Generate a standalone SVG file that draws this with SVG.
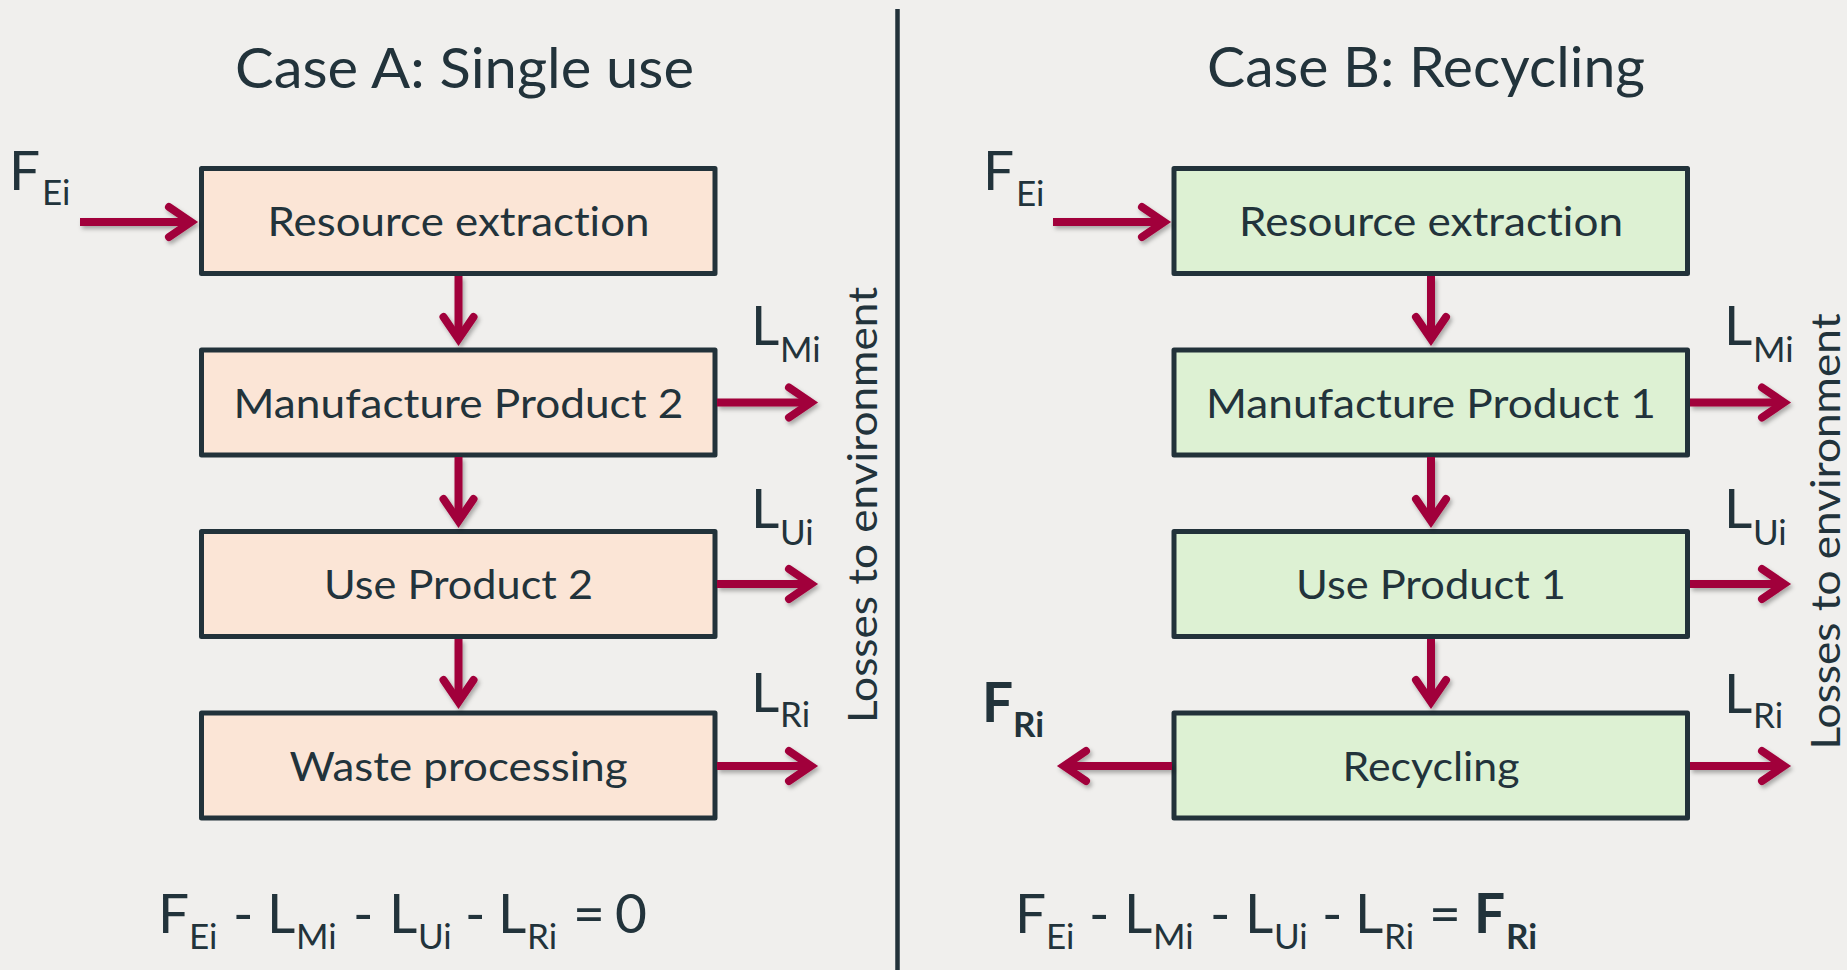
<svg xmlns="http://www.w3.org/2000/svg" width="1847" height="970" viewBox="0 0 1847 970">
  <style>
    text { font-family: Lato, "Open Sans", "Liberation Sans", sans-serif; fill: #22333b; font-variant-ligatures: none; }
    .title { font-size: 56px; text-anchor: middle; }
    .box-a { fill: #fbe5d6; stroke: #22323a; stroke-width: 5; stroke-linejoin: round; }
    .box-b { fill: #ddf1d3; stroke: #22323a; stroke-width: 5; stroke-linejoin: round; }
    .label { font-size: 41.5px; text-anchor: middle; }
    .sym { font-size: 55px; }
    .sub { font-size: 35px; }
    .bold { font-weight: bold; }
    .side { font-size: 41.5px; text-anchor: middle; }
    .flow { stroke: #a1003b; stroke-width: 8; fill: none; marker-end: url(#head); }
  </style>
  <defs>
    <marker id="head" markerUnits="userSpaceOnUse" viewBox="-30 -22 45 44" markerWidth="45" markerHeight="44" refX="0" refY="0" orient="auto">
      <path d="M-21,-15 L1,0 L-21,15" fill="none" stroke="#a1003b" stroke-width="8" stroke-linecap="round" stroke-linejoin="miter" stroke-miterlimit="10"/>
    </marker>
    <filter id="shadow" x="-10%" y="-10%" width="130%" height="130%">
      <feDropShadow dx="2" dy="3" stdDeviation="2" flood-color="#000" flood-opacity="0.3"/>
    </filter>
  </defs>

  <rect width="1847" height="970" fill="#f0efed"/>

  <!-- divider between the two cases -->
  <line x1="897.5" y1="9" x2="897.5" y2="970" stroke="#22323a" stroke-width="4.5"/>

  <!-- headings -->
  <text class="title" x="464.5" y="88" textLength="459" lengthAdjust="spacingAndGlyphs">Case A: Single use</text>
  <text class="title" x="1426" y="87" textLength="438" lengthAdjust="spacingAndGlyphs">Case B: Recycling</text>

  <!-- Case A chain -->
  <g id="a-extraction">
    <rect class="box-a" x="201.5" y="168.5" width="513.5" height="105"/>
    <text class="label" x="458.5" y="236" textLength="382" lengthAdjust="spacingAndGlyphs">Resource extraction</text>
  </g>
  <g id="a-manufacture">
    <rect class="box-a" x="201.5" y="350" width="513.5" height="105"/>
    <text class="label" x="458.5" y="417.5" textLength="450" lengthAdjust="spacingAndGlyphs">Manufacture Product 2</text>
  </g>
  <g id="a-use">
    <rect class="box-a" x="201.5" y="531.5" width="513.5" height="105"/>
    <text class="label" x="458.5" y="599" textLength="269" lengthAdjust="spacingAndGlyphs">Use Product 2</text>
  </g>
  <g id="a-waste">
    <rect class="box-a" x="201.5" y="713" width="513.5" height="105"/>
    <text class="label" x="458.5" y="780.5" textLength="338" lengthAdjust="spacingAndGlyphs">Waste processing</text>
  </g>

  <!-- Case B chain -->
  <g id="b-extraction">
    <rect class="box-b" x="1174" y="168.5" width="513.5" height="105"/>
    <text class="label" x="1431" y="236" textLength="384" lengthAdjust="spacingAndGlyphs">Resource extraction</text>
  </g>
  <g id="b-manufacture">
    <rect class="box-b" x="1174" y="350" width="513.5" height="105"/>
    <text class="label" x="1431" y="417.5" textLength="450" lengthAdjust="spacingAndGlyphs">Manufacture Product 1</text>
  </g>
  <g id="b-use">
    <rect class="box-b" x="1174" y="531.5" width="513.5" height="105"/>
    <text class="label" x="1431" y="599" textLength="270" lengthAdjust="spacingAndGlyphs">Use Product 1</text>
  </g>
  <g id="b-recycling">
    <rect class="box-b" x="1174" y="713" width="513.5" height="105"/>
    <text class="label" x="1431" y="780.5" textLength="177" lengthAdjust="spacingAndGlyphs">Recycling</text>
  </g>

  <!-- flows -->
  <g id="connectors" filter="url(#shadow)">
    <!-- Case A -->
    <line class="flow" x1="80" y1="222" x2="190" y2="222"/>
    <line class="flow" x1="458.5" y1="276" x2="458.5" y2="338"/>
    <line class="flow" x1="458.5" y1="457" x2="458.5" y2="520"/>
    <line class="flow" x1="458.5" y1="639" x2="458.5" y2="701"/>
    <line class="flow" x1="717" y1="402.5" x2="810" y2="402.5"/>
    <line class="flow" x1="717" y1="584" x2="810" y2="584"/>
    <line class="flow" x1="717" y1="766" x2="810" y2="766"/>
    <!-- Case B -->
    <line class="flow" x1="1053" y1="222" x2="1163" y2="222"/>
    <line class="flow" x1="1431" y1="276" x2="1431" y2="338"/>
    <line class="flow" x1="1431" y1="457" x2="1431" y2="520"/>
    <line class="flow" x1="1431" y1="639" x2="1431" y2="701"/>
    <line class="flow" x1="1690" y1="402.5" x2="1783" y2="402.5"/>
    <line class="flow" x1="1690" y1="584" x2="1783" y2="584"/>
    <line class="flow" x1="1690" y1="766" x2="1783" y2="766"/>
    <line class="flow" x1="1172" y1="766" x2="1065" y2="766"/>
  </g>

  <!-- flow symbols, Case A -->
  <text class="sym" x="9" y="190">F<tspan class="sub" x="42" y="205">Ei</tspan></text>
  <text class="sym" x="751" y="345">L<tspan class="sub" x="780" y="362">Mi</tspan></text>
  <text class="sym" x="751" y="528">L<tspan class="sub" x="780" y="545">Ui</tspan></text>
  <text class="sym" x="751" y="712">L<tspan class="sub" x="780" y="727">Ri</tspan></text>

  <!-- flow symbols, Case B -->
  <text class="sym" x="983" y="190">F<tspan class="sub" x="1016" y="206">Ei</tspan></text>
  <text class="sym" x="1724" y="345">L<tspan class="sub" x="1753" y="362">Mi</tspan></text>
  <text class="sym" x="1724" y="528">L<tspan class="sub" x="1753" y="545">Ui</tspan></text>
  <text class="sym" x="1724" y="713">L<tspan class="sub" x="1753" y="728">Ri</tspan></text>
  <text class="sym bold" x="982" y="722">F<tspan class="sub" x="1013" y="737">Ri</tspan></text>

  <!-- side captions -->
  <text class="side" transform="translate(877,505) rotate(-90)" textLength="436" lengthAdjust="spacingAndGlyphs">Losses to environment</text>
  <text class="side" transform="translate(1840,531.5) rotate(-90)" textLength="436" lengthAdjust="spacingAndGlyphs">Losses to environment</text>

  <!-- balance equations -->
  <text class="sym" y="933"><tspan x="158">F</tspan><tspan class="sub" x="189" y="949">Ei</tspan><tspan x="233" y="933">-</tspan><tspan x="267">L</tspan><tspan class="sub" x="296" y="949">Mi</tspan><tspan x="353" y="933">-</tspan><tspan x="389">L</tspan><tspan class="sub" x="418" y="949">Ui</tspan><tspan x="465" y="933">-</tspan><tspan x="498">L</tspan><tspan class="sub" x="527" y="949">Ri</tspan><tspan x="573" y="933">=</tspan><tspan x="615">0</tspan></text>
  <text class="sym" y="933"><tspan x="1015">F</tspan><tspan class="sub" x="1046" y="949">Ei</tspan><tspan x="1089" y="933">-</tspan><tspan x="1124">L</tspan><tspan class="sub" x="1153" y="949">Mi</tspan><tspan x="1210" y="933">-</tspan><tspan x="1245">L</tspan><tspan class="sub" x="1274" y="949">Ui</tspan><tspan x="1322" y="933">-</tspan><tspan x="1355">L</tspan><tspan class="sub" x="1384" y="949">Ri</tspan><tspan x="1429" y="933">=</tspan><tspan class="bold" x="1474">F</tspan><tspan class="sub bold" x="1506" y="949">Ri</tspan></text>
</svg>
